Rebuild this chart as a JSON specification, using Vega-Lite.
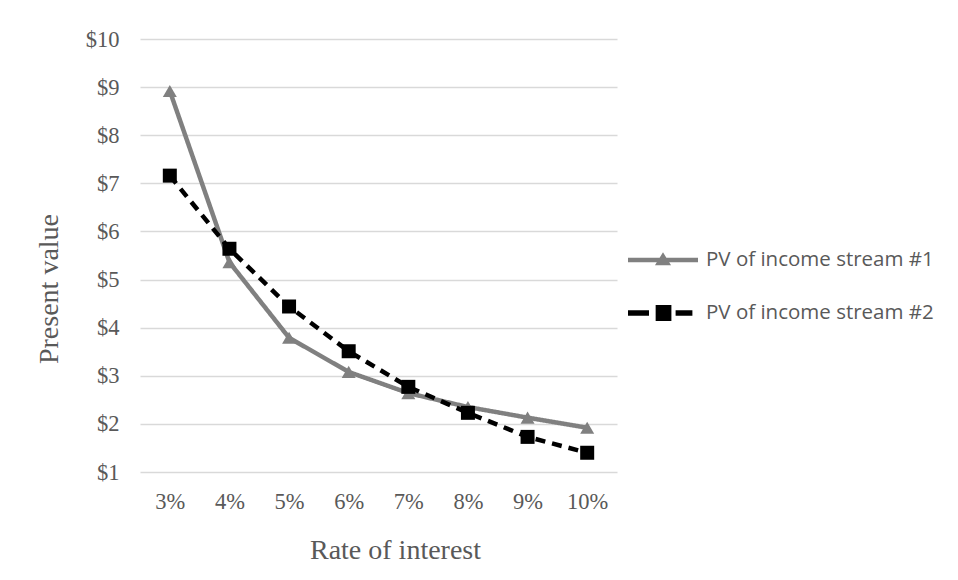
{
  "$schema": "https://vega.github.io/schema/vega-lite/v6.json",
  "width": 477,
  "height": 433,
  "autosize": {"type": "none"},
  "padding": {"left": 140, "top": 39, "right": 341, "bottom": 108},
  "background": "white",
  "config": {"view": {"stroke": null}},
  "data": {
    "values": [
      {"rate": "3%", "series": "PV of income stream #1", "value": 8.92},
      {"rate": "4%", "series": "PV of income stream #1", "value": 5.36},
      {"rate": "5%", "series": "PV of income stream #1", "value": 3.79},
      {"rate": "6%", "series": "PV of income stream #1", "value": 3.08},
      {"rate": "7%", "series": "PV of income stream #1", "value": 2.64},
      {"rate": "8%", "series": "PV of income stream #1", "value": 2.35},
      {"rate": "9%", "series": "PV of income stream #1", "value": 2.13},
      {"rate": "10%", "series": "PV of income stream #1", "value": 1.92},
      {"rate": "3%", "series": "PV of income stream #2", "value": 7.16},
      {"rate": "4%", "series": "PV of income stream #2", "value": 5.64},
      {"rate": "5%", "series": "PV of income stream #2", "value": 4.44},
      {"rate": "6%", "series": "PV of income stream #2", "value": 3.51},
      {"rate": "7%", "series": "PV of income stream #2", "value": 2.77},
      {"rate": "8%", "series": "PV of income stream #2", "value": 2.23},
      {"rate": "9%", "series": "PV of income stream #2", "value": 1.73},
      {"rate": "10%", "series": "PV of income stream #2", "value": 1.40}
    ]
  },
  "encoding": {
    "x": {
      "field": "rate", "type": "ordinal",
      "sort": ["3%", "4%", "5%", "6%", "7%", "8%", "9%", "10%"],
      "scale": {"type": "point", "padding": 0.5},
      "axis": {
        "title": "Rate of interest",
        "titleFont": "Liberation Serif", "titleFontSize": 28, "titleFontWeight": "normal",
        "titleColor": "#595959", "titleX": 255, "titleY": 86, "titleBaseline": "alphabetic", "titleAlign": "center",
        "labelFont": "Liberation Serif", "labelFontSize": 22.5, "labelColor": "#595959",
        "labelPadding": 18, "labelAngle": 0,
        "ticks": false, "domain": false, "grid": false
      }
    },
    "y": {
      "field": "value", "type": "quantitative",
      "scale": {"domain": [1, 10], "nice": false, "zero": false},
      "axis": {
        "title": "Present value",
        "values": [1, 2, 3, 4, 5, 6, 7, 8, 9, 10],
        "labelExpr": "'$' + datum.value",
        "titleFont": "Liberation Serif", "titleFontSize": 28, "titleFontWeight": "normal",
        "titleColor": "#595959", "titleX": -83, "titleY": 249.5, "titleAngle": -90,
        "titleBaseline": "alphabetic", "titleAlign": "center",
        "labelFont": "Liberation Serif", "labelFontSize": 22.5, "labelColor": "#595959",
        "labelPadding": 21,
        "ticks": false, "domain": false,
        "grid": true, "gridColor": "#D9D9D9", "gridWidth": 1.5
      }
    },
    "color": {
      "field": "series", "type": "nominal",
      "scale": {"domain": ["PV of income stream #1", "PV of income stream #2"], "range": ["#808080", "#000000"]},
      "legend": {
        "title": null,
        "orient": "none",
        "legendX": 488,
        "legendY": 186,
        "symbolSize": 4900,
        "symbolStrokeWidth": 0,
        "labelFont": "Open Sans",
        "labelFontSize": 20.5,
        "labelColor": "#595959",
        "labelOffset": 8,
        "rowPadding": 7,
        "labelLimit": 400,
        "encode": {
          "symbols": {
            "update": {
              "shape": {"signal": "datum.value === 'PV of income stream #1' ? 'M-1,-0.065H1V0.065H-1ZM0,-0.22L0.23,0.15L-0.23,0.15Z' : 'M-1,-0.08H-0.4V0.08H-1ZM-0.21,-0.23H0.24V0.23H-0.21ZM0.36,-0.08H0.84V0.08H0.36Z'"},
              "fill": {"signal": "datum.value === 'PV of income stream #1' ? '#808080' : '#000000'"},
              "stroke": {"value": "transparent"},
              "strokeWidth": {"value": 0},
              "strokeDash": {"value": [1, 0]},
              "opacity": {"value": 1}
            }
          }
        }
      }
    }
  },
  "layer": [
    {
      "mark": {"type": "line", "strokeWidth": 4.5},
      "encoding": {
        "strokeDash": {
          "condition": {"test": "datum.series === 'PV of income stream #2'", "value": [10, 7]},
          "value": [1, 0]
        }
      }
    },
    {
      "mark": {"type": "point", "filled": true, "opacity": 1, "size": 196},
      "encoding": {
        "shape": {
          "condition": {"test": "datum.series === 'PV of income stream #1'", "value": "triangle-up"},
          "value": "square"
        }
      }
    }
  ]
}
